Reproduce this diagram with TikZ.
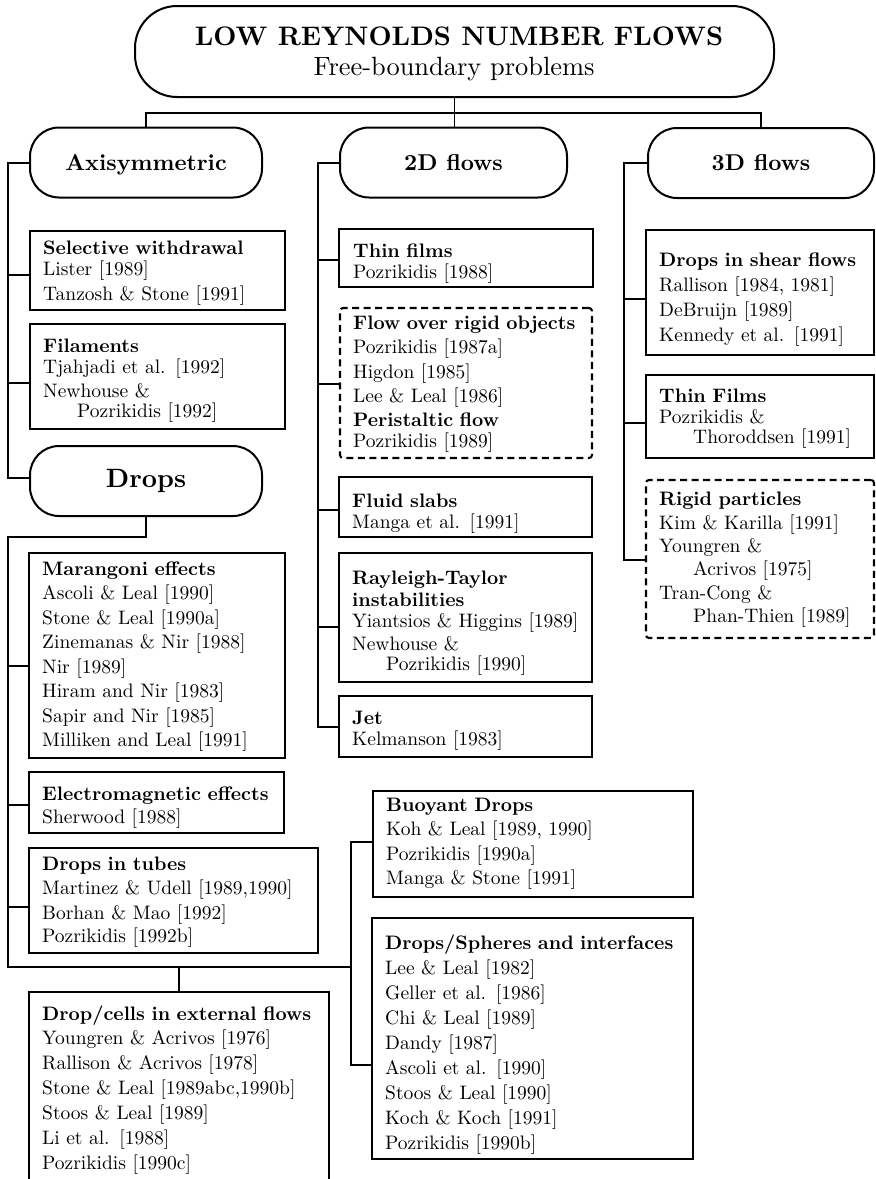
\documentclass[tikz,border=0pt]{standalone}
\usepackage{fontspec}
\setmainfont{lmroman10}[Extension=.otf, UprightFont=*-regular, BoldFont=*-bold, ItalicFont=*-italic]
\newcommand\bodyfont{\fontsize{19.5}{20.5}\selectfont}
\newcommand\titlefont{\fontsize{26.8}{30}\selectfont}
\newcommand\subtfont{\fontsize{26.4}{30}\selectfont}
\newcommand\secfont{\fontsize{22.9}{26}\selectfont\bfseries}
\newcommand\dropfont{\fontsize{26.5}{30}\selectfont\bfseries}
\newcommand\ind{\hspace*{34pt}}
\begin{document}
\begin{tikzpicture}[x=1pt,y=-1pt,
  frame/.style={draw, line width=2.1pt, anchor=north west, inner sep=0pt, outer sep=0pt},
  dframe/.style={frame, dash pattern=on 7pt off 4.5pt, rounded corners=3pt},
  pill/.style={draw, line width=2pt, rounded corners=29pt, inner sep=0pt, outer sep=0pt},
  txt/.style={anchor=north west, inner sep=0pt, align=left, text width=330pt, font=\bodyfont},
  conn/.style={line width=1.25pt},
]
\useasboundingbox (0,0) rectangle (876,1179);
\fill[white] (0,0) rectangle (876,1179);

% ---- top level
\node[pill, rounded corners=42pt, minimum width=639pt, minimum height=91pt, anchor=north west] (top) at (135,6) {};
\node[anchor=base, inner sep=0pt, font=\titlefont\bfseries] (title) at (459,45) {LOW REYNOLDS NUMBER FLOWS};
\node[anchor=base, inner sep=0pt, font=\subtfont] (subtitle) at (454,75) {Free-boundary problems};

% ---- second level
\node[pill, minimum width=232pt, minimum height=70pt, text depth=0pt, font=\secfont] (axi) at (146,162.5) {Axisymmetric};
\node[pill, minimum width=227pt, minimum height=70pt, font=\secfont] (twod) at (453.5,162.5) {2D flows};
\node[pill, minimum width=226pt, minimum height=70pt, font=\secfont] (threed) at (761,163) {3D flows};
\node[pill, minimum width=232pt, minimum height=70pt, font=\dropfont] (drops) at (146,481) {Drops};

% ---- boxes: axisymmetric
\node[frame, minimum width=255pt, minimum height=79pt] (sel) at (30,231) {};
\node[txt] (sel-t) at (43,241) {\textbf{Selective withdrawal}\\ Lister [1989]\\[4.5pt] Tanzosh \& Stone [1991]};
\node[frame, minimum width=255pt, minimum height=105pt] (fil) at (30,324) {};
\node[txt] (fil-t) at (43,339) {\textbf{Filaments}\\ Tjahjadi et al. [1992]\\[3.5pt] Newhouse \&\\ \ind Pozrikidis [1992]};

% ---- boxes: drops
\node[frame, minimum width=256pt, minimum height=205pt] (mar) at (29,553) {};
\node[txt] (mar-t) at (42,562) {\textbf{Marangoni effects}\\[3.5pt] Ascoli \& Leal [1990]\\[4pt] Stone \& Leal [1990a]\\[4pt] Zinemanas \& Nir [1988]\\[4pt] Nir [1989]\\[4pt] Hiram and Nir [1983]\\[4pt] Sapir and Nir [1985]\\[4pt] Milliken and Leal [1991]};
\node[frame, minimum width=255pt, minimum height=61pt] (em) at (29,772) {};
\node[txt] (em-t) at (42,787) {\textbf{Electromagnetic effects}\\[2.5pt] Sherwood [1988]};
\node[frame, minimum width=289pt, minimum height=105pt] (tub) at (29,848) {};
\node[txt] (tub-t) at (42,857) {\textbf{Drops in tubes}\\[3.5pt] Martinez \& Udell [1989,1990]\\[4.5pt] Borhan \& Mao [1992]\\[2.5pt] Pozrikidis [1992b]};
\node[frame, minimum width=300pt, minimum height=200pt] (cells) at (29,992) {};
\node[txt] (cells-t) at (42,1006) {\textbf{Drop/cells in external flows}\\[3.5pt] Youngren \& Acrivos [1976]\\[4.5pt] Rallison \& Acrivos [1978]\\[4.5pt] Stone \& Leal [1989abc,1990b]\\[4.5pt] Stoos \& Leal [1989]\\[4.5pt] Li et al. [1988]\\[4.5pt] Pozrikidis [1990c]};
\node[frame, minimum width=320pt, minimum height=106pt] (buoy) at (373,791) {};
\node[txt] (buoy-t) at (386,798) {\textbf{Buoyant Drops}\\[3.8pt] Koh \& Leal [1989, 1990]\\[3.8pt] Pozrikidis [1990a]\\[3.8pt] Manga \& Stone [1991]};
\node[frame, minimum width=321pt, minimum height=241pt] (ds) at (372,918) {};
\node[txt] (ds-t) at (385,935) {\textbf{Drops/Spheres and interfaces}\\[4.4pt] Lee \& Leal [1982]\\[4.4pt] Geller et al. [1986]\\[4.4pt] Chi \& Leal [1989]\\[4.4pt] Dandy [1987]\\[4.4pt] Ascoli et al. [1990]\\[4.4pt] Stoos \& Leal [1990]\\[4.4pt] Koch \& Koch [1991]\\[4.4pt] Pozrikidis [1990b]};

% ---- boxes: 2D flows
\node[frame, minimum width=254pt, minimum height=58pt] (thin) at (339,229) {};
\node[txt] (thin-t) at (353,244) {\textbf{Thin films}\\ Pozrikidis [1988]};
\node[dframe, minimum width=252pt, minimum height=150pt] (flow) at (340,308) {};
\node[txt] (flow-t) at (353,316) {\textbf{Flow over rigid objects}\\[3.5pt] Pozrikidis [1987a]\\[4.5pt] Higdon [1985]\\[3.5pt] Lee \& Leal [1986]\\[3.5pt] \textbf{Peristaltic flow}\\ Pozrikidis [1989]};
\node[frame, minimum width=253pt, minimum height=60pt] (slab) at (339,477) {};
\node[txt] (slab-t) at (352,494) {\textbf{Fluid slabs}\\ Manga et al. [1991]};
\node[frame, minimum width=253pt, minimum height=129pt] (ray) at (339,553) {};
\node[txt] (ray-t) at (352,571) {\textbf{Rayleigh-Taylor}\\[1pt] \textbf{instabilities}\\[0.5pt] Yiantsios \& Higgins [1989]\\[2.5pt] Newhouse \&\\ \ind Pozrikidis [1990]};
\node[frame, minimum width=253pt, minimum height=61pt] (jet) at (339,696) {};
\node[txt] (jet-t) at (352,711) {\textbf{Jet}\\ Kelmanson [1983]};

% ---- boxes: 3D flows
\node[frame, minimum width=228pt, minimum height=125pt] (shear) at (646,230) {};
\node[txt] (shear-t) at (659,253) {\textbf{Drops in shear flows}\\[4.5pt] Rallison [1984, 1981]\\[4.5pt] DeBruijn [1989]\\[4.5pt] Kennedy et al. [1991]};
\node[frame, minimum width=228pt, minimum height=83pt] (tf3) at (646,375) {};
\node[txt] (tf3-t) at (659,389) {\textbf{Thin Films}\\ Pozrikidis \&\\ \ind Thoroddsen [1991]};
\node[dframe, minimum width=228pt, minimum height=158pt] (rigid) at (646,480) {};
\node[txt] (rigid-t) at (659,492) {\textbf{Rigid particles}\\[3pt] Kim \& Karilla [1991]\\[3pt] Youngren \&\\[2.5pt] \ind Acrivos [1975]\\[3pt] Tran-Cong \&\\[3pt] \ind Phan-Thien [1989]};

% ---- connectors
\coordinate (hb) at (top.south |- 0,113);
\coordinate (ax) at (8,0);
\coordinate (bx) at (351,0);
\coordinate (tx) at (318,0);
\coordinate (hx) at (624,0);
\draw[conn] (top.south) -- (hb);
\draw[conn] (axi.north) |- (hb) -| (threed.north);
\draw[conn] (hb) -- (hb |- twod.north);

\draw[conn] (axi.west |- 0,163) -| (ax |- 0,478) -- (drops.west |- 0,478);
\draw[conn] (ax |- 0,275) -- (sel.west |- 0,275);
\draw[conn] (ax |- 0,383) -- (fil.west |- 0,383);

\draw[conn] (drops.south) -- (drops.south |- 0,537) -| (ax |- 0,967) -- (bx |- 0,967);
\draw[conn] (ax |- 0,666) -- (mar.west |- 0,666);
\draw[conn] (ax |- 0,805) -- (em.west |- 0,805);
\draw[conn] (ax |- 0,907) -- (tub.west |- 0,907);
\draw[conn] (cells.north) -- (cells.north |- 0,967);
\draw[conn] (buoy.west |- 0,842) -| (bx |- 0,1065) -- (ds.west |- 0,1065);

\draw[conn] (twod.west |- 0,163) -| (tx |- 0,727) -- (jet.west |- 0,727);
\draw[conn] (tx |- 0,260) -- (thin.west |- 0,260);
\draw[conn] (tx |- 0,384) -- (flow.west |- 0,384);
\draw[conn] (tx |- 0,510) -- (slab.west |- 0,510);
\draw[conn] (tx |- 0,627) -- (ray.west |- 0,627);

\draw[conn] (threed.west |- 0,163) -| (hx |- 0,560) -- (rigid.west |- 0,560);
\draw[conn] (hx |- 0,299) -- (shear.west |- 0,299);
\draw[conn] (hx |- 0,423) -- (tf3.west |- 0,423);
\end{tikzpicture}
\end{document}
